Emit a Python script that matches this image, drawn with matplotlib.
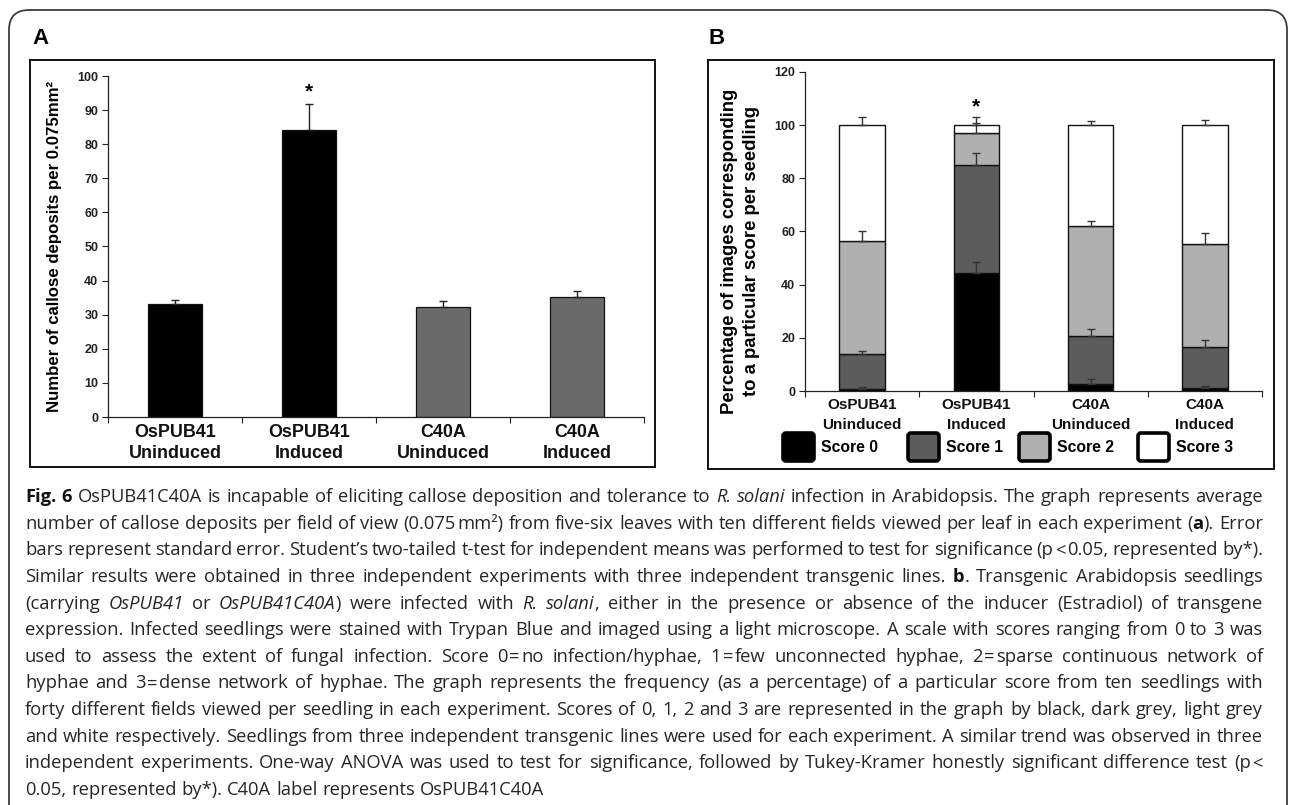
import re
import matplotlib
matplotlib.use("Agg")
import matplotlib.pyplot as plt
from matplotlib.patches import FancyBboxPatch, Rectangle
from matplotlib.transforms import IdentityTransform, blended_transform_factory
import numpy as np

W, H, DPI = 1290, 805, 100

# ---------------- data ----------------
cat_line1 = ["OsPUB41", "OsPUB41", "C40A", "C40A"]
cat_line2 = ["Uninduced", "Induced", "Uninduced", "Induced"]
callose_mean = [33.2, 84.2, 32.3, 35.1]
callose_se = [1.2, 7.6, 1.7, 1.8]
callose_colors = ["#000000", "#000000", "#6a6a6a", "#6a6a6a"]
callose_star = [None, "*", None, None]

score_labels = ["Score 0", "Score 1", "Score 2", "Score 3"]
score0 = [0.8, 44.3, 2.5, 1.3]
score1 = [13.2, 40.8, 18.2, 15.1]
score2 = [42.5, 11.8, 41.5, 38.9]
score3 = [43.5, 3.1, 37.8, 44.7]
score0_se = [0.7, 4.4, 2.0, 0.5]
score1_se = [1.2, 4.5, 2.5, 2.8]
score2_se = [3.8, 4.1, 1.9, 4.3]
score3_se = [3.0, 3.0, 1.6, 2.0]
score_colors = ["#000000", "#5c5c5c", "#b0b0b0", "#ffffff"]
score_star = [None, "*", None, None]

yticks_a = list(range(0, 101, 10))
yticks_b = list(range(0, 121, 20))
ylabel_a = "Number of callose deposits per 0.075mm\u00b2"
ylabel_b = ["Percentage of images corresponding", "to a particular score per seedling"]

T = "\u2009"  # thin space
caption_lines = [
    "<b>Fig. 6</b> OsPUB41C40A is incapable of eliciting callose deposition and tolerance to <i>R. solani</i> infection in Arabidopsis. The graph represents average",
    "number of callose deposits per field of view (0.075" + T + "mm\u00b2) from five-six leaves with ten different fields viewed per leaf in each experiment (<b>a</b>). Error",
    "bars represent standard error. Student\u2019s two-tailed t-test for independent means was performed to test for significance (p" + T + "<" + T + "0.05, represented by*).",
    "Similar results were obtained in three independent experiments with three independent transgenic lines. <b>b</b>. Transgenic Arabidopsis seedlings",
    "(carrying <i>OsPUB41</i> or <i>OsPUB41C40A</i>) were infected with <i>R. solani</i>, either in the presence or absence of the inducer (Estradiol) of transgene",
    "expression. Infected seedlings were stained with Trypan Blue and imaged using a light microscope. A scale with scores ranging from 0 to 3 was",
    "used to assess the extent of fungal infection. Score 0" + T + "=" + T + "no infection/hyphae, 1" + T + "=" + T + "few unconnected hyphae, 2" + T + "=" + T + "sparse continuous network of",
    "hyphae and 3" + T + "=" + T + "dense network of hyphae. The graph represents the frequency (as a percentage) of a particular score from ten seedlings with",
    "forty different fields viewed per seedling in each experiment. Scores of 0, 1, 2 and 3 are represented in the graph by black, dark grey, light grey",
    "and white respectively. Seedlings from three independent transgenic lines were used for each experiment. A similar trend was observed in three",
    "independent experiments. One-way ANOVA was used to test for significance, followed by Tukey-Kramer honestly significant difference test (p" + T + "<",
    "0.05, represented by*). C40A label represents OsPUB41C40A",
]

ARIAL = ["Liberation Sans", "DejaVu Sans"]
CAPF = ["Open Sans", "DejaVu Sans"]

fig = plt.figure(figsize=(W / DPI, H / DPI), dpi=DPI)
fig.patch.set_facecolor("white")
renderer = fig.canvas.get_renderer()
PX = IdentityTransform()


def fy(py):
    return H - py


def text_width(s, **kw):
    t = fig.text(0, 0, s, **kw)
    w = t.get_window_extent(renderer).width
    t.remove()
    return w


def fit_size(s, target_px, **kw):
    return 10.0 * target_px / text_width(s, fontsize=10.0, **kw)


# ---------------- outer rounded border ----------------
fig.patches.append(FancyBboxPatch((9, fy(860)), 1278, 850, boxstyle="round,pad=0,rounding_size=20",
                                  transform=PX, fill=False, edgecolor="#3c3c3c", linewidth=1.3))

# panel frames
for (x0, y0, x1, y1) in [(30, 60, 655, 467), (708, 60, 1274, 469)]:
    fig.patches.append(Rectangle((x0, fy(y1)), x1 - x0, y1 - y0, transform=PX,
                                 fill=False, edgecolor="#111111", linewidth=1.4))

fig.text(32, fy(44), "A", transform=PX, fontsize=16, fontweight="bold", family=ARIAL,
         va="baseline", ha="left")
fig.text(708, fy(44), "B", transform=PX, fontsize=16, fontweight="bold", family=ARIAL,
         va="baseline", ha="left")


def style_axes(ax, yticks, cat_fs, base1, base2):
    for s in ["top", "right"]:
        ax.spines[s].set_visible(False)
    for s in ["left", "bottom"]:
        ax.spines[s].set_linewidth(0.9)
        ax.spines[s].set_color("#222222")
    ax.set_yticks(yticks)
    ax.set_yticklabels([str(v) for v in yticks], fontsize=9, fontweight="bold", family=ARIAL)
    ax.tick_params(axis="y", direction="out", length=4, width=0.8, pad=3, colors="#222222")
    ax.set_xlim(-0.5, len(cat_line1) - 0.5)
    ax.set_xticks(np.arange(len(cat_line1) + 1) - 0.5)
    ax.set_xticklabels([])
    ax.tick_params(axis="x", which="major", direction="out", length=4, width=0.8, colors="#222222")
    tr = blended_transform_factory(ax.transData, PX)
    for i, (l1, l2) in enumerate(zip(cat_line1, cat_line2)):
        ax.text(i, fy(base1), l1, transform=tr, ha="center", va="baseline", fontsize=cat_fs,
                fontweight="bold", family=ARIAL, color="#111111", clip_on=False)
        ax.text(i, fy(base2), l2, transform=tr, ha="center", va="baseline", fontsize=cat_fs,
                fontweight="bold", family=ARIAL, color="#111111", clip_on=False)


x = np.arange(len(cat_line1))

# ---------------- panel A ----------------
axA = fig.add_axes([108 / W, 1 - 417 / H, (644 - 108) / W, (417 - 76) / H])
axA.bar(x, callose_mean, width=0.4, color=callose_colors, edgecolor="#111111", linewidth=0.9, zorder=2)
axA.errorbar(x, callose_mean, yerr=[np.zeros(len(x)), callose_se], fmt="none", ecolor="#222222",
             elinewidth=1.0, capsize=3, capthick=1.0, zorder=3)
axA.set_ylim(0, 100)
fsA = fit_size("Uninduced", 93, fontweight="bold", family=ARIAL)
style_axes(axA, yticks_a, fsA, 437, 458)
for i, st in enumerate(callose_star):
    if st:
        axA.text(x[i], callose_mean[i] + callose_se[i] + 0.8, st, ha="center", va="bottom",
                 fontsize=15, fontweight="bold", family=ARIAL)

# ---------------- panel B ----------------
axB = fig.add_axes([805 / W, 1 - 391 / H, (1262 - 805) / W, (391 - 72) / H])
stack = [score0, score1, score2, score3]
stack_se = [score0_se, score1_se, score2_se, score3_se]
bottom = np.zeros(len(x))
for vals, ses, col, lab in zip(stack, stack_se, score_colors, score_labels):
    vals = np.array(vals)
    axB.bar(x, vals, width=0.4, bottom=bottom, color=col, edgecolor="#111111", linewidth=1.0,
            zorder=2, label=lab)
    top = bottom + vals
    axB.errorbar(x, top, yerr=[np.zeros(len(x)), ses], fmt="none", ecolor="#333333",
                 elinewidth=1.0, capsize=3, capthick=1.0, zorder=3)
    bottom = top
axB.set_ylim(0, 120)
fsB = fit_size("OsPUB41", 70, fontweight="bold", family=ARIAL)
style_axes(axB, yticks_b, fsB, 409, 429)
for i, st in enumerate(score_star):
    if st:
        axB.text(x[i], bottom[i] + score3_se[i] + 0.3, st, ha="center", va="bottom",
                 fontsize=15, fontweight="bold", family=ARIAL)

# ---------------- y labels (fitted to measured length) ----------------
fsa = fit_size(ylabel_a, 332, fontweight="bold", family=ARIAL)
fig.text(55, fy(246), ylabel_a, transform=PX, rotation=90, ha="center", va="center",
         fontsize=fsa, fontweight="bold", family=ARIAL)
fsb = fit_size(ylabel_b[0], 326, fontweight="bold", family=ARIAL)
for xx, line in zip([729, 752], ylabel_b):
    fig.text(xx, fy(251), line, transform=PX, rotation=90, ha="center", va="center",
             fontsize=fsb, fontweight="bold", family=ARIAL)

# ---------------- legend of panel B ----------------
leg_x = [783, 908, 1019, 1138]
fsL = fit_size("Score 0", 57, fontweight="bold", family=ARIAL)
for lx, col, lab in zip(leg_x, score_colors, score_labels):
    fig.patches.append(FancyBboxPatch((lx, fy(461)), 31, 28, boxstyle="round,pad=0,rounding_size=3",
                                      transform=PX, facecolor=col, edgecolor="#000000", linewidth=2.6))
    fig.text(lx + 38, fy(447), lab, transform=PX, ha="left", va="center", fontsize=fsL,
             fontweight="bold", family=ARIAL)


# ---------------- caption (justified) ----------------
def parse(line):
    tokens = re.split(r"(<b>|</b>|<i>|</i>)", line)
    bold = italic = False
    chars = []
    for t in tokens:
        if t == "<b>":
            bold = True
        elif t == "</b>":
            bold = False
        elif t == "<i>":
            italic = True
        elif t == "</i>":
            italic = False
        else:
            for c in t:
                chars.append((c, (bold, italic)))
    words, cur = [], []
    for c, st in chars:
        if c == " ":
            if cur:
                words.append(cur)
                cur = []
        elif c == T:
            cur.append((T, st))
        else:
            if cur and cur[-1][1] == st and cur[-1][0] != T:
                cur[-1] = (cur[-1][0] + c, st)
            else:
                cur.append((c, st))
    if cur:
        words.append(cur)
    return words


def run_kw(st, fs):
    bold, italic = st
    return dict(fontsize=fs, family=CAPF, fontweight="bold" if bold else "normal",
                fontstyle="italic" if italic else "normal",
                color="#111111" if bold else "#262626")


def run_width(r, fs, space):
    if r[0] == T:
        return 0.35 * space
    return text_width(r[0], **run_kw(r[1], fs))


CL, CR = 25, 1263
parsed = [parse(l) for l in caption_lines]
f0 = 10.0
sp0 = text_width("x x", **run_kw((False, False), f0)) - text_width("xx", **run_kw((False, False), f0))
# largest font for which every justified line fits with spaces >= 0.75 of natural
limits = []
for words in parsed[:-1]:
    ww = sum(run_width(r, f0, sp0) for w in words for r in w)
    limits.append(f0 * (CR - CL) / (ww + 0.75 * sp0 * (len(words) - 1)))
fs = min(limits) * 0.997
space = sp0 * fs / f0

y_first, y_last = 502, 795
dy = (y_last - y_first) / (len(parsed) - 1)
for li, words in enumerate(parsed):
    widths = [[run_width(r, fs, space) for r in w] for w in words]
    total = sum(sum(ws) for ws in widths)
    if li < len(parsed) - 1 and len(words) > 1:
        gap = (CR - CL - total) / (len(words) - 1)
    else:
        gap = space
    xx = CL
    yb = fy(y_first + li * dy)
    for w, ws in zip(words, widths):
        for (s, st), rw in zip(w, ws):
            if s != T:
                fig.text(xx, yb, s, transform=PX, ha="left", va="baseline", **run_kw(st, fs))
            xx += rw
        xx += gap

fig.savefig("out.png", dpi=DPI, facecolor="white")
